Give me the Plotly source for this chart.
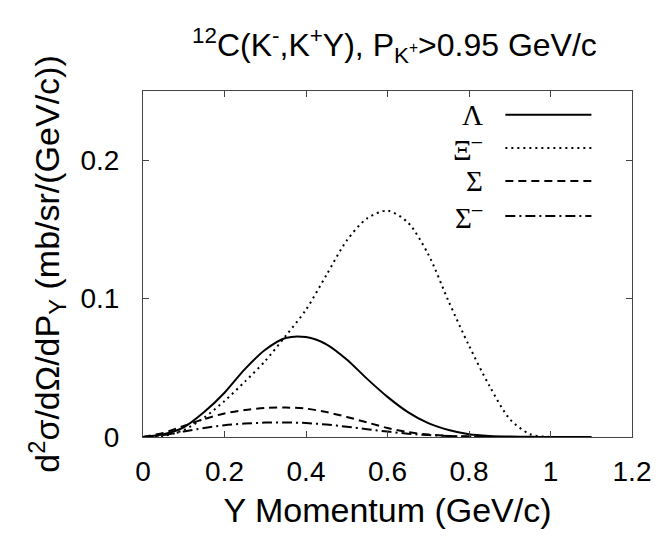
import plotly.graph_objects as go

momentum = [0, 0.05, 0.1, 0.15, 0.2, 0.25, 0.3, 0.35, 0.4, 0.45, 0.5, 0.55,
            0.6, 0.65, 0.7, 0.75, 0.8, 0.85, 0.9, 0.95, 1.0, 1.05, 1.1]
lambda_vals = [0, 0.002, 0.007, 0.018, 0.032, 0.049, 0.063, 0.0715, 0.0722, 0.067,
               0.056, 0.042, 0.029, 0.018, 0.010, 0.005, 0.002, 0.0008, 0.0003,
               0.0001, 0, 0, 0]
xi_vals = [0, 0.0008, 0.005, 0.014, 0.026, 0.040, 0.055, 0.073, 0.092, 0.117,
           0.142, 0.158, 0.1635, 0.155, 0.132, 0.098, 0.066, 0.037, 0.013, 0.002,
           0, 0, 0]
sigma_vals = [0, 0.003, 0.008, 0.013, 0.017, 0.0195, 0.021, 0.0213, 0.0205, 0.018,
              0.0145, 0.0105, 0.0065, 0.0035, 0.0018, 0.0008, 0.0003, 0.0001, 0,
              0, 0, 0, 0]
sigmam_vals = [0, 0.0015, 0.004, 0.0065, 0.0085, 0.0097, 0.0104, 0.0105, 0.0101,
               0.009, 0.0074, 0.0056, 0.0039, 0.0024, 0.0014, 0.0007, 0.0003,
               0.0001, 0, 0, 0, 0, 0]

series_names = ["Λ", "Ξ<sup>–</sup>", "Σ", "Σ<sup>–</sup>"]
series_values = [lambda_vals, xi_vals, sigma_vals, sigmam_vals]
series_dash = ["solid", "2px,4px", "8px,5px", "10px,4px,2px,4px"]

x_ticks = [0, 0.2, 0.4, 0.6, 0.8, 1.0, 1.2]
x_tick_labels = ["0", "0.2", "0.4", "0.6", "0.8", "1", "1.2"]
y_ticks = [0, 0.1, 0.2]
y_tick_labels = ["0", "0.1", "0.2"]

fig = go.Figure()
for name, vals, dash in zip(series_names, series_values, series_dash):
    fig.add_trace(go.Scatter(x=momentum, y=vals, mode="lines", name=name,
                             line=dict(color="black", width=2, dash=dash,
                                       shape="spline", smoothing=0.8),
                             showlegend=False))

# legend drawn manually (labels right-aligned, sample lines to their right)
leg_y = [0.931, 0.835, 0.740, 0.639]
for name, dash, yy in zip(series_names, series_dash, leg_y):
    fig.add_annotation(x=0.699, y=yy, xref="paper", yref="paper", text=name,
                       showarrow=False, xanchor="right", yanchor="middle",
                       font=dict(family="Liberation Serif", size=29, color="black"))
    fig.add_shape(type="line", xref="paper", yref="paper", x0=0.741, x1=0.917,
                  y0=yy, y1=yy, line=dict(color="black", width=2, dash=dash))

fig.update_layout(
    width=655, height=528,
    margin=dict(l=135, r=25, t=83, b=99),
    paper_bgcolor="white", plot_bgcolor="white",
    font=dict(family="Liberation Sans", size=28, color="black"),
    title=dict(text="<sup>12</sup>C(K<sup>-</sup>,K<sup>+</sup>Y), P<sub>K<sup>+</sup></sub>>0.95 GeV/c",
               x=0.59, xanchor="center", y=0.93, yanchor="middle",
               font=dict(size=32)),
    xaxis=dict(range=[0, 1.2], tickvals=x_ticks, ticktext=x_tick_labels,
               ticks="inside", ticklen=6, tickcolor="#444", showgrid=False,
               zeroline=False, showline=True, linecolor="#444", linewidth=1,
               mirror="ticks", ticklabelstandoff=9,
               title=dict(text="Y Momentum (GeV/c)", standoff=12)),
    yaxis=dict(range=[0, 0.25], tickvals=y_ticks, ticktext=y_tick_labels,
               ticks="inside", ticklen=6, tickcolor="#444", showgrid=False,
               zeroline=False, showline=True, linecolor="#444", linewidth=1,
               mirror="ticks", ticklabelstandoff=17,
               title=dict(text="d<sup>2</sup>σ/dΩ/dP<sub>Y</sub> (mb/sr/(GeV/c))",
                          standoff=10)),
)

fig.write_html("out.html")
